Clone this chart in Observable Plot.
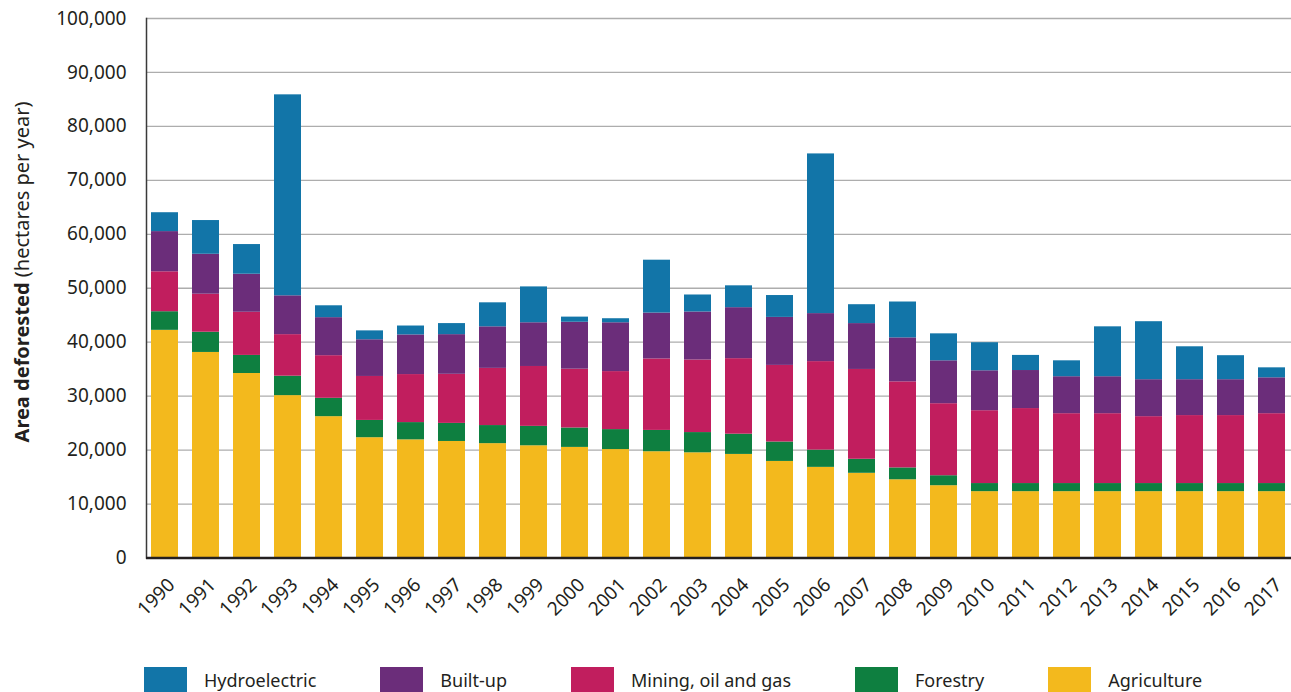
<!DOCTYPE html>
<html>
<head>
<meta charset="utf-8">
<script src="https://cdn.jsdelivr.net/npm/d3@7"></script>
<script src="https://cdn.jsdelivr.net/npm/@observablehq/plot@0.6"></script>
<style>
  html, body { margin: 0; padding: 0; background: #fff; }
  #wrap { position: relative; width: 1291px; height: 692px; font-family: "Noto Sans", sans-serif; color: #231f20; }
  #legend { display: flex; align-items: center; gap: 64px; padding-left: 144px; margin-top: 47px; }
  .item { display: flex; align-items: center; }
  .sw { width: 43px; height: 26px; margin-right: 17px; }
  .lab { font-size: 18px; }
</style>
</head>
<body>
<div id="wrap"></div>
<script>
const years = ["1990","1991","1992","1993","1994","1995","1996","1997","1998","1999","2000","2001","2002","2003","2004","2005","2006","2007","2008","2009","2010","2011","2012","2013","2014","2015","2016","2017"];
const categories = ["Agriculture", "Forestry", "Mining, oil and gas", "Built-up", "Hydroelectric"];
const colors = ["#f3b91d", "#0e7f40", "#c11e5e", "#6b2d7a", "#1275a8"];
const legendOrder = ["Hydroelectric", "Built-up", "Mining, oil and gas", "Forestry", "Agriculture"];

const agriculture = [42200,38100,34200,30100,26200,22300,21900,21600,21200,20800,20500,20100,19700,19500,19200,17900,16800,15700,14500,13400,12300,12300,12300,12300,12300,12300,12300,12300];
const forestry    = [3450,3750,3350,3600,3400,3200,3200,3350,3350,3600,3600,3700,3950,3750,3750,3600,3200,2600,2200,1850,1500,1500,1500,1500,1500,1500,1500,1500];
const mining      = [7400,7050,8000,7700,7900,8150,8900,9100,10600,11100,10900,10750,13250,13450,14000,14200,16400,16650,15950,13350,13500,13900,12950,12950,12400,12600,12600,12950];
const builtUp     = [7450,7400,7050,7200,7050,6800,7350,7350,7700,8100,8700,9050,8500,8900,9450,8900,8900,8500,8150,7950,7400,7050,6850,6850,6850,6650,6650,6650];
const hydro       = [3500,6250,5500,37250,2200,1650,1650,2050,4450,6650,950,750,9800,3150,4050,4050,29600,3500,6650,5000,5200,2800,2950,9250,10750,6100,4450,1850];
const yTicks = [0,10000,20000,30000,40000,50000,60000,70000,80000,90000,100000];

const series = [agriculture, forestry, mining, builtUp, hydro];
const table = [];
years.forEach((y, i) => {
  categories.forEach((c, j) => table.push({year: y, category: c, value: series[j][i]}));
});

const ink = "#231f20";

const chart = Plot.plot({
  width: 1291,
  height: 620,
  marginLeft: 146,
  marginRight: 0,
  marginTop: 18,
  marginBottom: 62.5,
  style: {fontFamily: "Noto Sans, sans-serif", fontSize: "19px", color: ink, background: "#fff", overflow: "visible"},
  x: {type: "band", domain: years, paddingInner: 0.34, paddingOuter: 0.12, axis: null},
  y: {domain: [0, 100000], ticks: yTicks, tickFormat: d3.format(","), label: null},
  color: {domain: categories, range: colors},
  marks: [
    Plot.gridY(yTicks, {stroke: "#adadad", strokeOpacity: 1, strokeWidth: 1.3}),
    Plot.axisY(yTicks, {tickSize: 0, tickPadding: 20, tickFormat: d3.format(","), label: null, fill: ink, fontSize: 19}),
    Plot.barY(table, {x: "year", y: "value", fill: "category", z: "category", order: categories}),
    Plot.frame({anchor: "left", stroke: "#3a3a3a", strokeWidth: 1.5}),
    Plot.ruleY([0], {stroke: ink, strokeWidth: 2.6}),
    Plot.text(years, {x: d => d, frameAnchor: "bottom", rotate: -45, textAnchor: "end", dx: 11, dy: 28, fontSize: 19, fill: ink})
  ]
});

const wrap = document.getElementById("wrap");
wrap.appendChild(chart);

// Y-axis title with mixed weights
const svg = d3.select(chart);
const t = svg.append("text")
  .attr("transform", "translate(21,272) rotate(-90)")
  .attr("text-anchor", "middle")
  .attr("dominant-baseline", "central")
  .attr("fill", ink)
  .style("font-size", "20px")
  .style("font-family", "Noto Sans, sans-serif");
t.append("tspan").attr("font-weight", "bold").text("Area deforested");
t.append("tspan").text(" (hectares per year)");

// Legend
const legend = document.createElement("div");
legend.id = "legend";
legendOrder.forEach(name => {
  const item = document.createElement("div");
  item.className = "item";
  const sw = document.createElement("div");
  sw.className = "sw";
  sw.style.background = colors[categories.indexOf(name)];
  const lab = document.createElement("span");
  lab.className = "lab";
  lab.textContent = name;
  item.appendChild(sw);
  item.appendChild(lab);
  legend.appendChild(item);
});
wrap.appendChild(legend);
</script>
</body>
</html>
